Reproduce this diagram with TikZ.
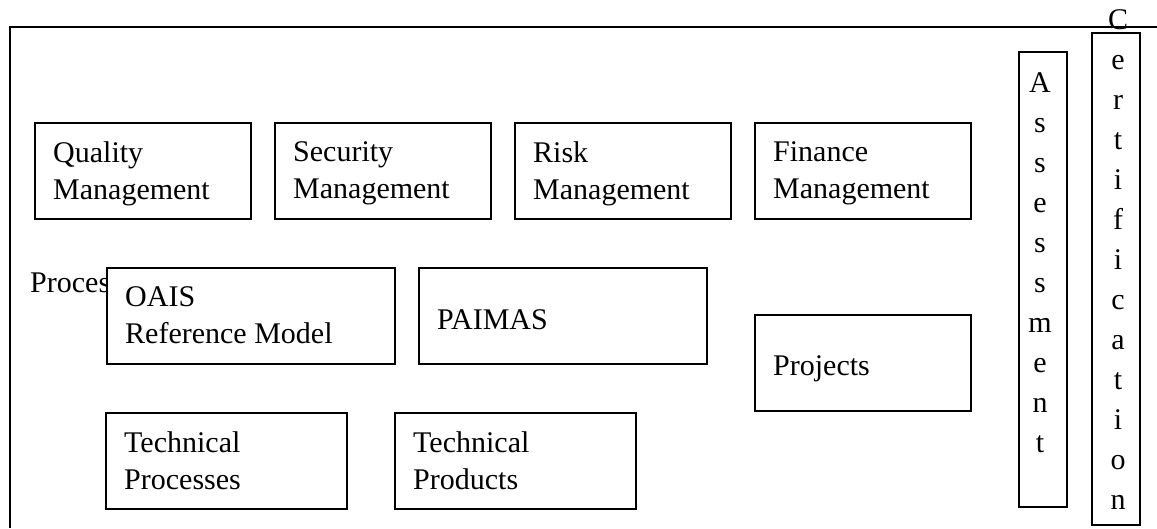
\documentclass[tikz,border=0pt]{standalone}
\usepackage{fontspec}
\setmainfont{Liberation Serif}
\usetikzlibrary{positioning}
\tikzset{
  blk/.style={draw, line width=2pt, fill=white, inner sep=0pt, anchor=north west},
  txt/.style={inner sep=0pt, align=left, font=\fontsize{30}{37}\selectfont},
  col/.style={inner sep=0pt, align=center, anchor=north, font=\fontsize{30}{40}\selectfont}
}

\begin{document}
\begin{tikzpicture}[x=1pt,y=-1pt]
  \useasboundingbox (0,0) rectangle (1157,528);
  \coordinate (TL) at (10,26.5);
  \coordinate (TR) at (1157,26.5);
  \coordinate (BL) at (10,528);

  \draw [line width=2pt] (TR) -- (TL) -- (BL);

  % management row
  \foreach \x/\name/\word in {34/qm/Quality, 274/sm/Security, 514/rm/Risk, 754/fm/Finance}
  {
    \node [blk, minimum width=216pt, minimum height=96pt] (\name) at (\x,122) {};
    \node [txt, below right=19.5pt and 19pt of \name.north west] (\name-t) {\word\\Management};
  }

  % label runs under the OAIS box
  \node [txt, anchor=base west] (proc) at (30,292) {Proces};

  \node [blk, minimum width=288pt, minimum height=96pt] (oais) at (106,267) {};
  \node [txt, below right=19.5pt and 19pt of oais.north west] (oais-t) {OAIS\\Reference Model};
  \node [blk, minimum width=288pt, minimum height=96pt] (paimas) at (418,267) {};
  \node [txt, below right=42pt and 19pt of paimas.north west] (paimas-t) {PAIMAS};
  \node [blk, minimum width=216pt, minimum height=96pt] (proj) at (754,314) {};
  \node [txt, below right=41pt and 19pt of proj.north west] (proj-t) {Projects};

  \node [blk, minimum width=241pt, minimum height=96pt] (tproc) at (105,412) {};
  \node [txt, below right=19.5pt and 19pt of tproc.north west] (tproc-t) {Technical\\Processes};
  \node [blk, minimum width=241pt, minimum height=96pt] (tprod) at (394,412) {};
  \node [txt, below right=19.5pt and 19pt of tprod.north west] (tprod-t) {Technical\\Products};

  % upright columns on the right
  \node [blk, minimum width=48pt, minimum height=455pt] (assess) at (1018,51) {};
  \node [col] (assess-t) at (1040,72) {A\\s\\s\\e\\s\\s\\m\\e\\n\\t};
  \node [blk, minimum width=48pt, minimum height=492pt] (cert) at (1091,32) {};
  \node [col] (cert-t) at (1118,9.7) {C\\e\\r\\t\\i\\f\\i\\c\\a\\t\\i\\o\\n};
\end{tikzpicture}
\end{document}
